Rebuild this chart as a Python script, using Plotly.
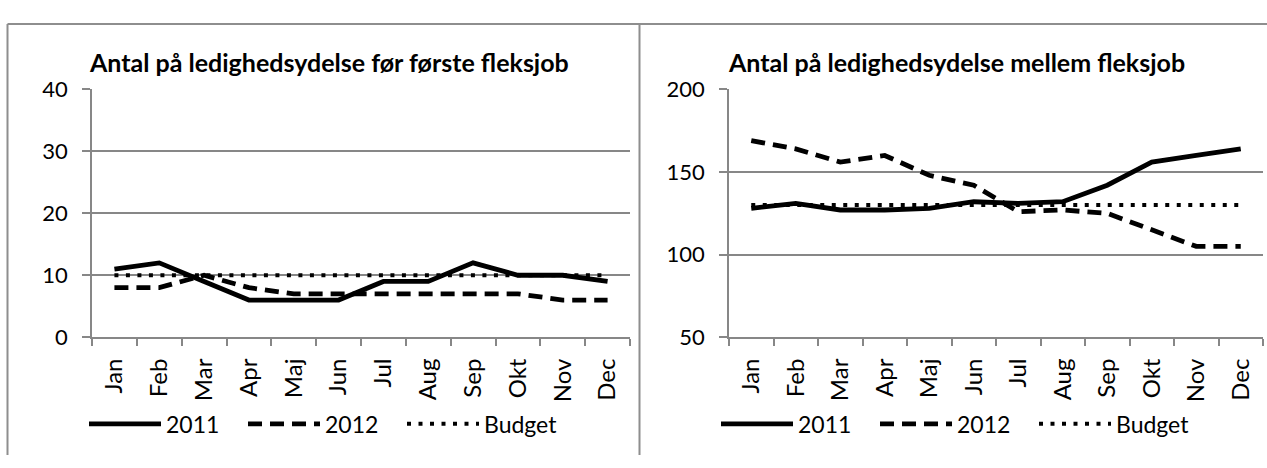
import plotly.graph_objects as go

W, H = 1267, 468

months = ["Jan", "Feb", "Mar", "Apr", "Maj", "Jun", "Jul", "Aug", "Sep", "Okt", "Nov", "Dec"]

# Left chart: før første fleksjob
left_title = "Antal på ledighedsydelse før første fleksjob"
left_2011 = [11, 12, 9, 6, 6, 6, 9, 9, 12, 10, 10, 9]
left_2012 = [8, 8, 10, 8, 7, 7, 7, 7, 7, 7, 6, 6]
left_budget = [10, 10, 10, 10, 10, 10, 10, 10, 10, 10, 10, 10]
left_yticks = [0, 10, 20, 30, 40]

# Right chart: mellem fleksjob
right_title = "Antal på ledighedsydelse mellem fleksjob"
right_2011 = [128, 131, 127, 127, 128, 132, 131, 132, 142, 156, 160, 164]
right_2012 = [169, 164, 156, 160, 148, 142, 126, 127, 125, 115, 105, 105]
right_budget = [130, 130, 130, 130, 130, 130, 130, 130, 130, 130, 130, 130]
right_yticks = [50, 100, 150, 200]

series_names = ["2011", "2012", "Budget"]

FONT = "Lato"
GRAY = "#878787"
BORDER = "#8e8e8e"


def px(x):
    return x / W


def py(y):
    return 1 - y / H


fig = go.Figure()

styles = [
    dict(color="black", width=4.8, dash="solid"),
    dict(color="black", width=4.8, dash="14px,8px"),
    dict(color="black", width=4, dash="4px,7.5px"),
]

for name, vals, st in zip(series_names, [left_2011, left_2012, left_budget], styles):
    fig.add_trace(go.Scatter(x=months, y=vals, mode="lines", name=name, line=st,
                             xaxis="x", yaxis="y", legend="legend"))
for name, vals, st in zip(series_names, [right_2011, right_2012, right_budget], styles):
    fig.add_trace(go.Scatter(x=months, y=vals, mode="lines", name=name, line=st,
                             xaxis="x2", yaxis="y2", legend="legend2"))

xcommon = dict(
    type="category", categoryorder="array", categoryarray=months,
    range=[-0.5, 11.5], showgrid=False, showline=True, linecolor=GRAY, linewidth=1.5,
    ticks="outside", tickson="boundaries", ticklen=7, tickcolor=GRAY, tickwidth=1.5,
    tickangle=-90, tickfont=dict(family=FONT, size=24, color="black"),
    ticklabelstandoff=10, fixedrange=True,
)
ycommon = dict(
    showgrid=True, gridcolor=GRAY, gridwidth=1.5, showline=True, linecolor=GRAY, linewidth=1.5,
    ticks="outside", ticklen=8, tickcolor=GRAY, tickwidth=1.5, zeroline=False,
    tickfont=dict(family=FONT, size=22, color="black"), ticklabelstandoff=10, fixedrange=True,
)

legcommon = dict(
    orientation="h", xanchor="left", yanchor="middle", yref="paper", xref="paper",
    itemwidth=72, entrywidth=72, entrywidthmode="pixels",
    font=dict(family=FONT, size=23, color="black"), bgcolor="rgba(0,0,0,0)",
    itemclick=False, itemdoubleclick=False, tracegroupgap=0,
)

fig.update_layout(
    width=W, height=H, margin=dict(l=0, r=0, t=0, b=0),
    paper_bgcolor="white", plot_bgcolor="white",
    xaxis=dict(domain=[px(92), px(630)], anchor="y", **xcommon),
    yaxis=dict(domain=[py(343), py(80)], anchor="x", range=[0, 40],
               tickvals=left_yticks, **ycommon),
    xaxis2=dict(domain=[px(729), px(1263)], anchor="y2", **xcommon),
    yaxis2=dict(domain=[py(343), py(80)], anchor="x2", range=[50, 200],
                tickvals=right_yticks, **ycommon),
    legend=dict(x=px(84), y=py(435), **legcommon),
    legend2=dict(x=px(716), y=py(435), **legcommon),
    showlegend=True,
    annotations=[
        dict(text="<b>%s</b>" % left_title, x=px(87), y=py(51), xref="paper", yref="paper",
             xanchor="left", yanchor="middle", showarrow=False,
             font=dict(family=FONT, size=25, color="black")),
        dict(text="<b>%s</b>" % right_title, x=px(726), y=py(51), xref="paper", yref="paper",
             xanchor="left", yanchor="middle", showarrow=False,
             font=dict(family=FONT, size=25, color="black")),
    ],
    shapes=[
        dict(type="line", xref="paper", yref="paper", x0=px(7.5), x1=1, y0=py(10.5), y1=py(10.5),
             line=dict(color=BORDER, width=2)),
        dict(type="line", xref="paper", yref="paper", x0=px(7.5), x1=px(7.5), y0=0, y1=py(10.5),
             line=dict(color=BORDER, width=2)),
        dict(type="line", xref="paper", yref="paper", x0=px(639.5), x1=px(639.5), y0=0, y1=py(10.5),
             line=dict(color=BORDER, width=2)),
    ],
)

fig.write_html("out.html", config={"displayModeBar": False},
               post_script="document.body.style.margin='0';document.body.style.overflow='hidden';")
